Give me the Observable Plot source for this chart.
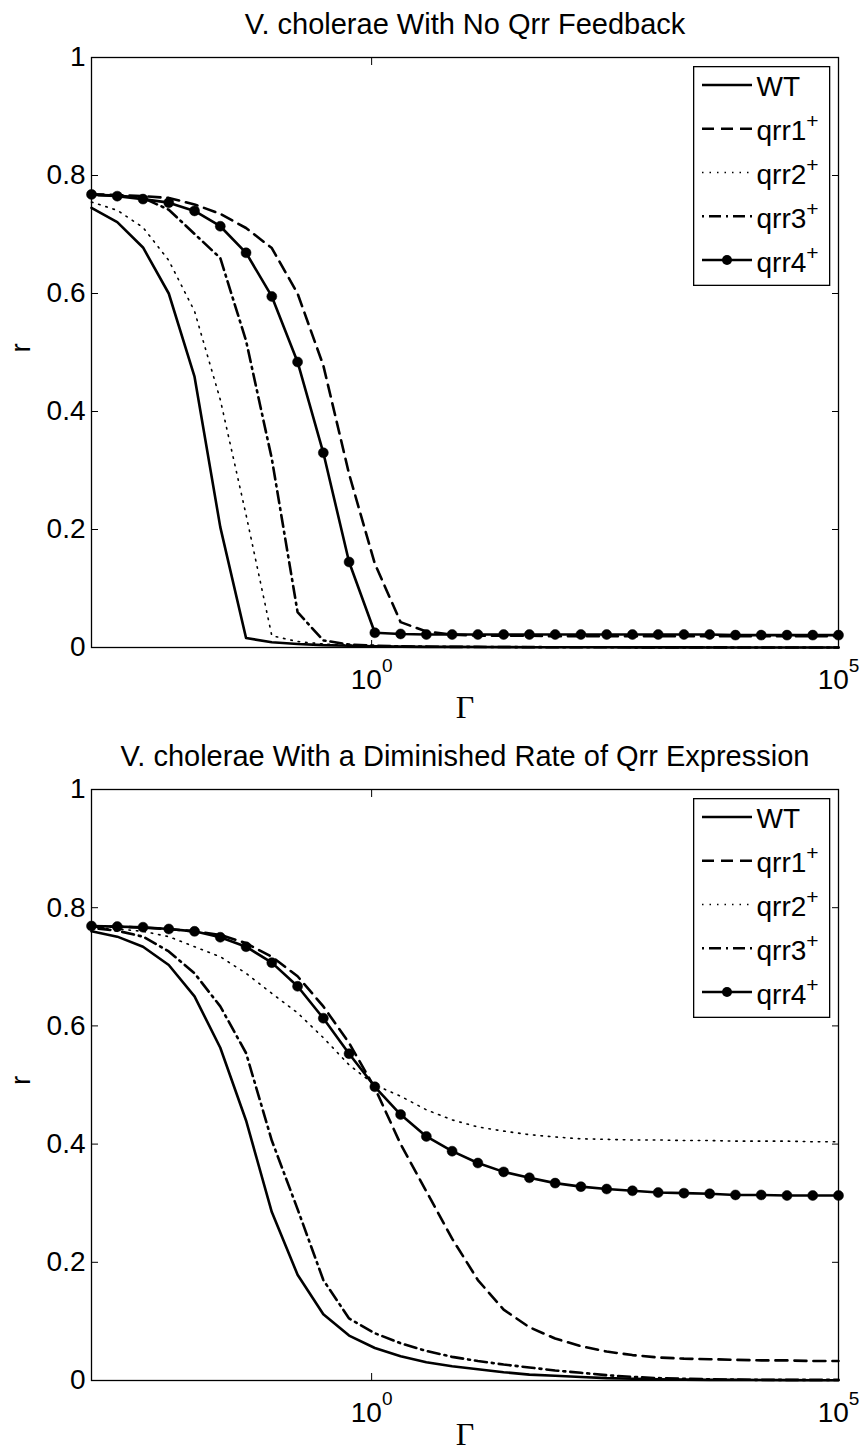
<!DOCTYPE html>
<html><head><meta charset="utf-8">
<script src="https://cdn.jsdelivr.net/npm/d3@7"></script>
<script src="https://cdn.jsdelivr.net/npm/@observablehq/plot@0.6"></script>
<style>
body{margin:0;background:#fff;}
#root{position:relative;width:863px;height:1452px;}
.panel{position:relative;width:863px;height:726px;}
</style></head><body><div id="root"></div>
<script>
// ---- data ----
const gammaValues = [0.001, 0.0018874, 0.0035622, 0.0067234, 0.012690, 0.023950, 0.045204, 0.085317,
  0.16103, 0.30392, 0.57362, 1.0826, 2.0434, 3.8566, 7.2790, 13.738, 25.929, 48.939, 92.367,
  174.33, 329.03, 621.02, 1172.1, 2212.2, 4175.3, 7880.5, 14874, 28072, 52983, 100000];

const seriesNames = ["WT", "qrr1", "qrr2", "qrr3", "qrr4"];
const legendBase = ["WT", "qrr1", "qrr2", "qrr3", "qrr4"];
const legendSup = ["", "+", "+", "+", "+"];
const panelTitles = ["V. cholerae With No Qrr Feedback", "V. cholerae With a Diminished Rate of Qrr Expression"];
const xTickValues = [1, 100000];
const yTickValues = [0, 0.2, 0.4, 0.6, 0.8, 1];
const xLabel = "Γ";
const yLabel = "r";

// top panel: no Qrr feedback
const topWT   = [0.745, 0.721, 0.678, 0.600, 0.459, 0.204, 0.016, 0.009, 0.006, 0.004, 0.003, 0.002, 0.0015, 0.001, 0.001, 0.0008, 0.0006, 0.0005, 0.0004, 0.0003, 0.0003, 0.0002, 0.0002, 0.0002, 0.0001, 0.0001, 0.0001, 0.0001, 0.0001, 0.0001];
const topQrr1 = [0.768, 0.767, 0.765, 0.762, 0.751, 0.735, 0.711, 0.677, 0.600, 0.478, 0.294, 0.142, 0.043, 0.027, 0.022, 0.020, 0.020, 0.020, 0.019, 0.019, 0.019, 0.019, 0.019, 0.019, 0.019, 0.019, 0.019, 0.019, 0.019, 0.019];
const topQrr2 = [0.755, 0.741, 0.712, 0.656, 0.570, 0.420, 0.225, 0.020, 0.010, 0.006, 0.004, 0.003, 0.002, 0.0015, 0.001, 0.001, 0.0008, 0.0006, 0.0005, 0.0004, 0.0003, 0.0003, 0.0002, 0.0002, 0.0002, 0.0001, 0.0001, 0.0001, 0.0001, 0.0001];
const topQrr3 = [0.767, 0.766, 0.762, 0.742, 0.701, 0.660, 0.520, 0.320, 0.060, 0.012, 0.005, 0.003, 0.002, 0.0015, 0.001, 0.001, 0.0008, 0.0006, 0.0005, 0.0004, 0.0003, 0.0003, 0.0002, 0.0002, 0.0002, 0.0001, 0.0001, 0.0001, 0.0001, 0.0001];
const topQrr4 = [0.768, 0.765, 0.760, 0.754, 0.740, 0.714, 0.669, 0.595, 0.484, 0.330, 0.145, 0.025, 0.023, 0.022, 0.022, 0.022, 0.022, 0.022, 0.022, 0.022, 0.022, 0.022, 0.022, 0.022, 0.022, 0.021, 0.021, 0.021, 0.021, 0.021];

// bottom panel: diminished rate of Qrr expression
const botWT   = [0.760, 0.751, 0.734, 0.703, 0.650, 0.563, 0.440, 0.285, 0.179, 0.112, 0.076, 0.055, 0.041, 0.031, 0.024, 0.019, 0.014, 0.010, 0.008, 0.006, 0.004, 0.003, 0.002, 0.0015, 0.001, 0.001, 0.0008, 0.0006, 0.0005, 0.0004];
const botQrr1 = [0.768, 0.768, 0.766, 0.764, 0.760, 0.754, 0.740, 0.717, 0.684, 0.633, 0.571, 0.495, 0.400, 0.320, 0.240, 0.170, 0.120, 0.090, 0.071, 0.058, 0.049, 0.043, 0.039, 0.037, 0.036, 0.035, 0.034, 0.034, 0.033, 0.033];
const botQrr2 = [0.766, 0.764, 0.760, 0.751, 0.734, 0.717, 0.689, 0.655, 0.622, 0.580, 0.534, 0.500, 0.481, 0.458, 0.441, 0.429, 0.422, 0.416, 0.412, 0.409, 0.408, 0.407, 0.407, 0.406, 0.406, 0.405, 0.405, 0.405, 0.404, 0.404];
const botQrr3 = [0.766, 0.761, 0.751, 0.726, 0.689, 0.633, 0.554, 0.406, 0.290, 0.170, 0.105, 0.080, 0.063, 0.050, 0.040, 0.033, 0.027, 0.022, 0.017, 0.013, 0.009, 0.006, 0.004, 0.003, 0.002, 0.0015, 0.001, 0.001, 0.001, 0.001];
const botQrr4 = [0.769, 0.768, 0.767, 0.764, 0.760, 0.750, 0.734, 0.707, 0.667, 0.613, 0.553, 0.497, 0.450, 0.413, 0.388, 0.368, 0.353, 0.343, 0.334, 0.328, 0.324, 0.321, 0.318, 0.317, 0.316, 0.314, 0.314, 0.313, 0.313, 0.313];

// ---- styling ----
const FONT = '"Liberation Sans", Arial, Helvetica, sans-serif';
const seriesStyle = [
  {w: 2.6, dash: null},
  {w: 2.6, dash: "12,7"},
  {w: 1.6, dash: "1.5,6"},
  {w: 2.6, dash: "2,5,12,5"},
  {w: 2.6, dash: null, marker: true}
];

function toRows(values) { return gammaValues.map((g, i) => ({g, r: values[i]})); }

function superscriptTicks(svg) {
  svg.querySelectorAll('g[aria-label="x-axis tick label"] text').forEach(t => {
    const parts = t.textContent.split("^");
    if (parts.length < 2) return;
    t.textContent = parts[0];
    const ts = document.createElementNS("http://www.w3.org/2000/svg", "tspan");
    ts.setAttribute("dy", "-17");
    ts.setAttribute("font-size", "19");
    ts.textContent = parts[1];
    t.appendChild(ts);
  });
}

function makeLegend(top) {
  const W = 137.3, H = 220;
  const svg = d3.create("svg").attr("width", W).attr("height", H)
    .style("position", "absolute").style("left", "692.7px").style("top", top + "px")
    .style("overflow", "visible").style("font-family", FONT);
  svg.append("rect").attr("x", 0.65).attr("y", 0.65).attr("width", W - 1.3).attr("height", H - 1.3)
    .attr("fill", "white").attr("stroke", "black").attr("stroke-width", 1.3);
  seriesNames.forEach((name, i) => {
    const st = seriesStyle[i];
    const ly = 19 + 43.75 * i;
    svg.append("line").attr("x1", 9).attr("x2", 59).attr("y1", ly).attr("y2", ly)
      .attr("stroke", "black").attr("stroke-width", st.w).attr("stroke-dasharray", st.dash);
    if (st.marker) svg.append("circle").attr("cx", 34).attr("cy", ly).attr("r", 5).attr("fill", "black");
    const t = svg.append("text").attr("x", 63.5).attr("y", 30 + 44 * i).attr("font-size", 28).attr("fill", "black").text(legendBase[i]);
    if (legendSup[i]) t.append("tspan").attr("font-size", 21).attr("dy", -12.5).text(legendSup[i]);
  });
  return svg.node();
}

function makePanel(title, seriesValues, marginTop, marginBottom, xLabelOffset) {
  const lineMarks = seriesValues.map((vals, i) => Plot.line(toRows(vals), {
    x: "g", y: "r", stroke: "black", strokeWidth: seriesStyle[i].w,
    strokeDasharray: seriesStyle[i].dash ?? undefined, strokeLinejoin: "round"
  }));
  const svg = Plot.plot({
    width: 863, height: 726,
    marginLeft: 91, marginRight: 25, marginTop, marginBottom,
    x: {type: "log", domain: [1e-3, 1e5]},
    y: {domain: [0, 1]},
    style: {fontFamily: FONT, fontSize: "28px", background: "white", overflow: "visible", color: "black"},
    marks: [
      ...lineMarks,
      Plot.dot(toRows(seriesValues[4]), {x: "g", y: "r", r: 5, fill: "black", stroke: "black", strokeWidth: 0.5}),
      Plot.frame({stroke: "black", strokeWidth: 1.3}),
      Plot.axisY(yTickValues, {anchor: "left", tickSize: 0, tickPadding: 6, tickFormat: d => String(d), label: null, fontSize: 28}),
      Plot.axisY(yTickValues, {anchor: "left", tickSize: 7, dx: 7, fill: "none", tickFormat: () => "", label: null}),
      Plot.axisY(yTickValues, {anchor: "right", tickSize: 7, dx: -7, fill: "none", tickFormat: () => "", label: null}),
      Plot.axisX(xTickValues, {anchor: "bottom", tickSize: 0, tickPadding: 22, tickFormat: d => "10^" + Math.round(Math.log10(d)), label: null, fontSize: 28}),
      Plot.axisX(xTickValues, {anchor: "bottom", tickSize: 7, dy: -7, fill: "none", tickFormat: () => "", label: null}),
      Plot.axisX(xTickValues, {anchor: "top", tickSize: 7, dy: 7, fill: "none", tickFormat: () => "", label: null}),
      Plot.text([title], {text: d => d, frameAnchor: "top", dy: -23.7, lineAnchor: "bottom", fontSize: 29, fill: "black"}),
      Plot.text([yLabel], {text: d => d, frameAnchor: "left", dx: -70, rotate: -90, fontSize: 28, fill: "black"}),
      Plot.text([xLabel], {text: d => d, frameAnchor: "bottom", dy: xLabelOffset, lineAnchor: "bottom", fontSize: 32, fontFamily: '"Liberation Serif", "Times New Roman", serif', fill: "black"})
    ]
  });
  superscriptTicks(svg);
  const div = document.createElement("div");
  div.className = "panel";
  div.appendChild(svg);
  div.appendChild(makeLegend(marginTop + 9));
  return div;
}

const root = document.getElementById("root");
root.appendChild(makePanel(panelTitles[0], [topWT, topQrr1, topQrr2, topQrr3, topQrr4], 57, 79, 70));
root.appendChild(makePanel(panelTitles[1], [botWT, botQrr1, botQrr2, botQrr3, botQrr4], 63, 72, 64));
</script></body></html>
